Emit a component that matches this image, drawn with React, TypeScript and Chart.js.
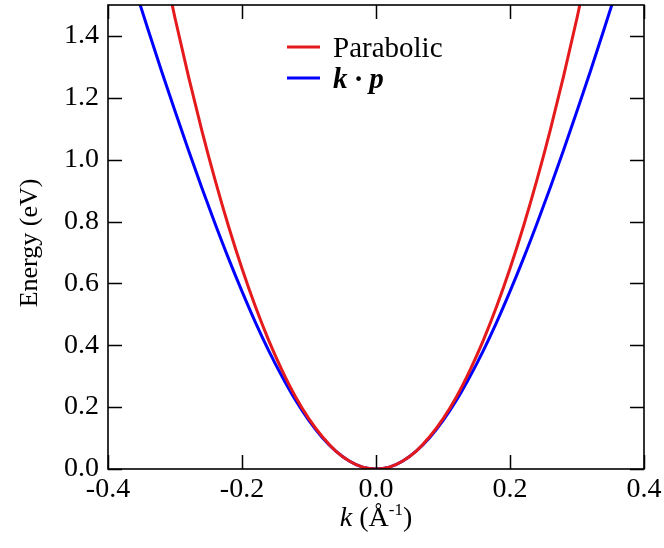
import React, { useEffect, useRef } from "react";
import { Chart, registerables } from "chart.js";

Chart.register(...registerables);

const kValues = [-0.36, -0.34, -0.32, -0.3, -0.28, -0.26, -0.24, -0.22, -0.2, -0.18, -0.16, -0.14, -0.12, -0.1, -0.08, -0.06, -0.04, -0.02, 0, 0.02, 0.04, 0.06, 0.08, 0.1, 0.12, 0.14, 0.16, 0.18, 0.2, 0.22, 0.24, 0.26, 0.28, 0.3, 0.32, 0.34, 0.36];
const parabolicE = [2.1, 1.873, 1.659, 1.458, 1.27, 1.095, 0.933, 0.784, 0.648, 0.525, 0.415, 0.318, 0.233, 0.162, 0.104, 0.058, 0.026, 0.006, 0, 0.006, 0.026, 0.058, 0.104, 0.162, 0.233, 0.318, 0.415, 0.525, 0.648, 0.784, 0.933, 1.095, 1.27, 1.458, 1.659, 1.873, 2.1];
const kpE = [1.555, 1.419, 1.286, 1.157, 1.031, 0.909, 0.792, 0.68, 0.574, 0.474, 0.382, 0.298, 0.222, 0.156, 0.101, 0.058, 0.026, 0.006, 0, 0.006, 0.026, 0.058, 0.101, 0.156, 0.222, 0.298, 0.382, 0.474, 0.574, 0.68, 0.792, 0.909, 1.031, 1.157, 1.286, 1.419, 1.555];
const xTicks = [-0.4, -0.2, 0.0, 0.2, 0.4];
const yTicks = [0.0, 0.2, 0.4, 0.6, 0.8, 1.0, 1.2, 1.4];
const seriesNames = ["Parabolic", "k \u00b7 p"];
const seriesColors = ["#e41a1c", "#0000ff"];
const xTitleParts = ["k", " (\u00c5", "-1", ")"];
const yTitle = "Energy (eV)";

const FONT = "'Liberation Serif', 'Times New Roman', serif";

const framePlugin = {
  id: "frame",
  afterDatasetsDraw(chart: any) {
    const { ctx, chartArea: a, scales } = chart;
    ctx.save();
    ctx.strokeStyle = "#000";
    ctx.lineWidth = 1.5;
    const tl = 14;
    ctx.beginPath();
    for (const v of xTicks) {
      const px = Math.round(scales.x.getPixelForValue(v)) + 0.5;
      ctx.moveTo(px, a.bottom);
      ctx.lineTo(px, a.bottom - tl);
      ctx.moveTo(px, a.top);
      ctx.lineTo(px, a.top + tl);
    }
    for (const v of yTicks) {
      const py = Math.round(scales.y.getPixelForValue(v)) + 0.5;
      ctx.moveTo(a.left, py);
      ctx.lineTo(a.left + tl, py);
      ctx.moveTo(a.right, py);
      ctx.lineTo(a.right - tl, py);
    }
    ctx.stroke();
    ctx.lineWidth = 1.6;
    ctx.strokeRect(a.left, a.top, a.right - a.left, a.bottom - a.top);

    // legend
    const lx0 = 287, lx1 = 320, tx = 333;
    const rows = [47, 78];
    ctx.lineWidth = 3;
    seriesNames.forEach((name, i) => {
      ctx.strokeStyle = seriesColors[i];
      ctx.beginPath();
      ctx.moveTo(lx0, rows[i]);
      ctx.lineTo(lx1, rows[i]);
      ctx.stroke();
      ctx.fillStyle = "#000";
      ctx.textBaseline = "alphabetic";
      ctx.textAlign = "left";
      ctx.font = i === 0 ? `29px ${FONT}` : `italic bold 29px ${FONT}`;
      ctx.fillText(name, tx, rows[i] + 10);
    });

    // x title
    const fonts = [`italic 28px ${FONT}`, `28px ${FONT}`, `17px ${FONT}`, `28px ${FONT}`];
    const offs = [0, 0, -11, 0];
    let total = 0;
    xTitleParts.forEach((p, i) => {
      ctx.font = fonts[i];
      total += ctx.measureText(p).width;
    });
    let x = (a.left + a.right) / 2 - total / 2;
    const base = 526;
    xTitleParts.forEach((p, i) => {
      ctx.font = fonts[i];
      ctx.fillText(p, x, base + offs[i]);
      x += ctx.measureText(p).width;
    });

    // y title
    ctx.save();
    ctx.translate(30, 243);
    ctx.rotate(-Math.PI / 2);
    ctx.font = `26px ${FONT}`;
    ctx.textAlign = "center";
    ctx.textBaseline = "middle";
    ctx.fillText(yTitle, 0, 0);
    ctx.restore();
    ctx.restore();
  },
};

const zeroPad = (s: any) => {
  s.paddingTop = 0;
  s.paddingBottom = 0;
  s.paddingLeft = 0;
  s.paddingRight = 0;
};

export default function App() {
  const ref = useRef<HTMLCanvasElement>(null);
  useEffect(() => {
    document.body.style.margin = "0";
    const chart = new Chart(ref.current!, {
      type: "line",
      data: {
        datasets: [
          {
            label: seriesNames[0],
            data: kValues.map((k, i) => ({ x: k, y: parabolicE[i] })),
            borderColor: seriesColors[0],
            borderWidth: 3,
            pointRadius: 0,
            cubicInterpolationMode: "monotone",
          },
          {
            label: seriesNames[1],
            data: kValues.map((k, i) => ({ x: k, y: kpE[i] })),
            borderColor: seriesColors[1],
            borderWidth: 3,
            pointRadius: 0,
            cubicInterpolationMode: "monotone",
          },
        ],
      },
      options: {
        responsive: false,
        animation: false,
        layout: { padding: { top: 5, right: 20, left: 0, bottom: 0 } },
        plugins: { legend: { display: false }, tooltip: { enabled: false } },
        scales: {
          x: {
            type: "linear",
            min: -0.4,
            max: 0.4,
            afterBuildTicks: (s: any) => {
              s.ticks = xTicks.map((v) => ({ value: v }));
            },
            afterFit: (s: any) => {
              s.height = 79;
              zeroPad(s);
            },
            grid: { display: false, drawTicks: false },
            border: { display: false },
            ticks: {
              padding: 4,
              color: "#000",
              font: { family: FONT, size: 28 },
              maxRotation: 0,
              callback: (v: any) => Number(v).toFixed(1),
            },
          },
          y: {
            type: "linear",
            min: 0,
            max: 1.5,
            afterBuildTicks: (s: any) => {
              s.ticks = yTicks.map((v) => ({ value: v }));
            },
            afterFit: (s: any) => {
              s.width = 108;
              zeroPad(s);
            },
            grid: { display: false, drawTicks: false },
            border: { display: false },
            ticks: {
              padding: 9,
              color: "#000",
              font: { family: FONT, size: 28 },
              callback: (v: any) => Number(v).toFixed(1),
            },
          },
        },
      },
      plugins: [framePlugin],
    } as any);
    return () => chart.destroy();
  }, []);
  return (
    <div style={{ width: 664, height: 548, background: "#fff" }}>
      <canvas ref={ref} width={664} height={548} style={{ display: "block" }} />
    </div>
  );
}
